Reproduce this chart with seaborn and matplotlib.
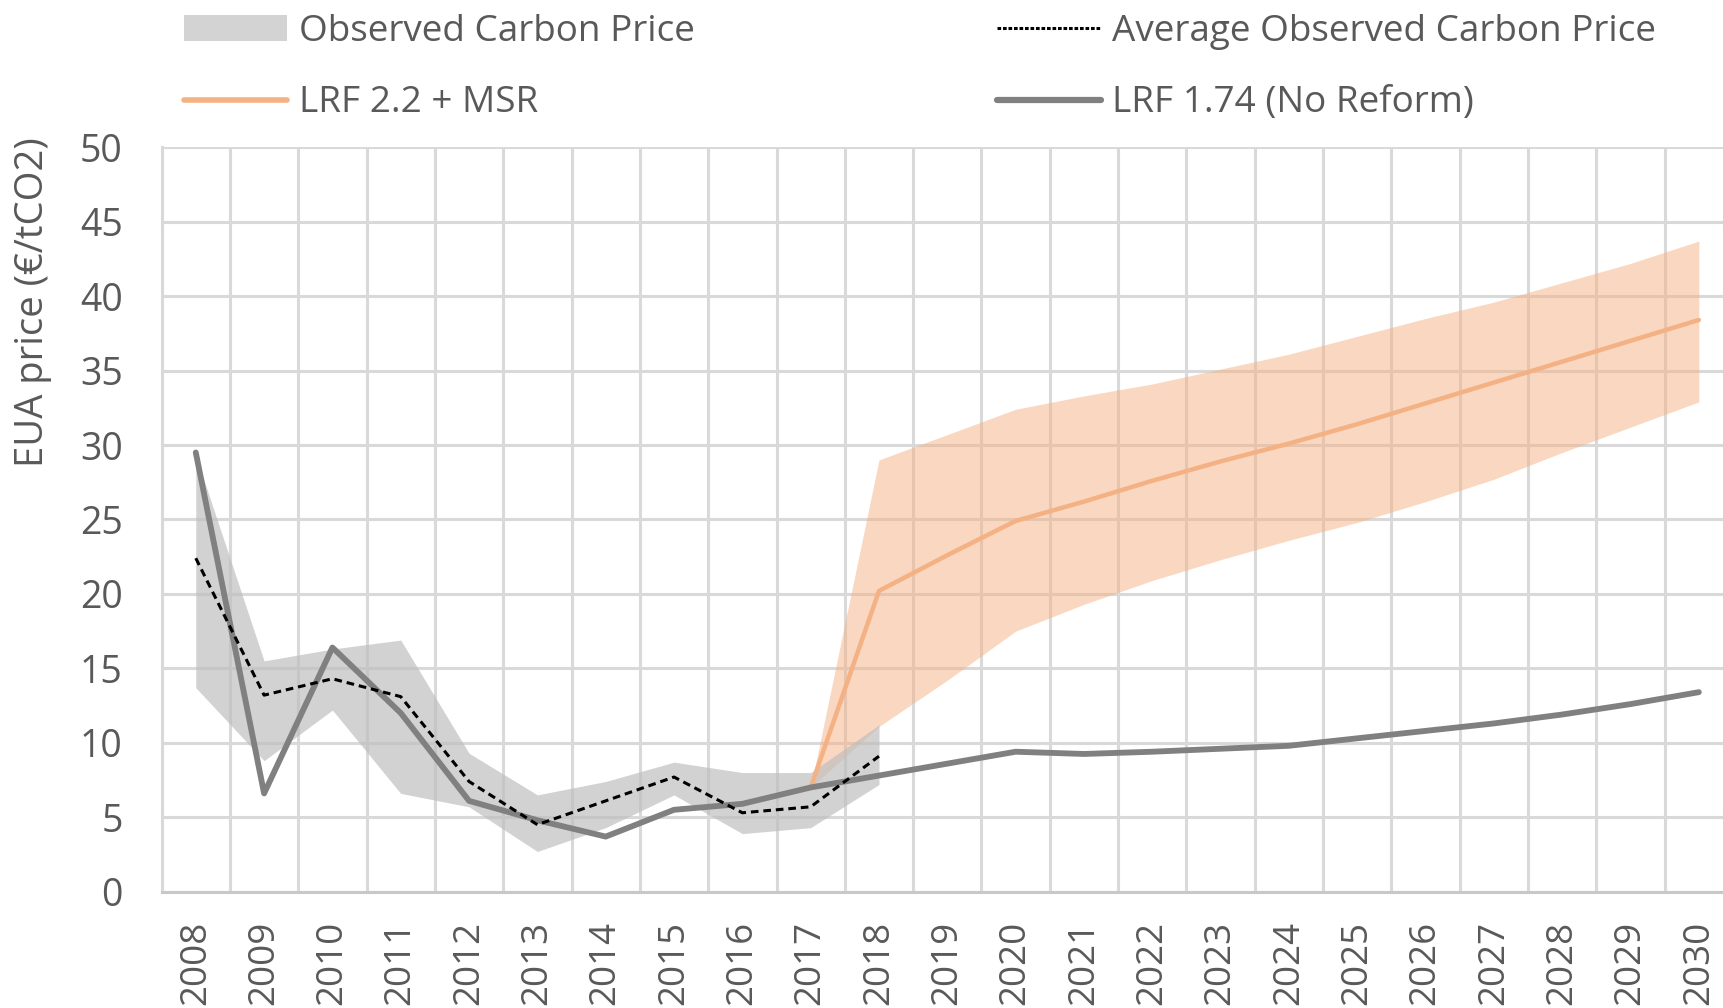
import numpy as np
import pandas as pd
import matplotlib.pyplot as plt
import seaborn as sns
from matplotlib.patches import Patch
from matplotlib.lines import Line2D

# EUA price scenarios, €/tCO2
years = list(range(2008, 2031))
obs_years = list(range(2008, 2019))
obs_high = [29.3, 15.5, 16.3, 16.9, 9.3, 6.5, 7.4, 8.7, 8.0, 8.0, 11.2]
obs_low = [13.7, 8.8, 12.2, 6.6, 5.7, 2.7, 4.3, 6.5, 3.9, 4.3, 7.2]
obs_avg = [22.4, 13.2, 14.3, 13.1, 7.4, 4.5, 6.1, 7.7, 5.3, 5.7, 9.1]
no_reform = [29.5, 6.6, 16.4, 12.0, 6.1, 4.8, 3.7, 5.5, 5.9, 7.0, 7.8, 8.6,
             9.4, 9.25, 9.4, 9.6, 9.8, 10.3, 10.8, 11.3, 11.9, 12.6, 13.4]
msr_years = list(range(2017, 2031))
msr_mid = [7.0, 20.2, 22.6, 24.9, 26.2, 27.6, 28.9, 30.1, 31.4, 32.8, 34.2, 35.6, 37.0, 38.4]
msr_high = [7.0, 29.0, 30.7, 32.4, 33.3, 34.1, 35.1, 36.1, 37.3, 38.5, 39.6, 40.9, 42.2, 43.7]
msr_low = [7.0, 11.1, 14.2, 17.5, 19.3, 20.9, 22.3, 23.6, 24.8, 26.2, 27.7, 29.5, 31.2, 32.9]

TEXT = '#595959'
GRID = '#D9D9D9'
ORANGE = '#F4B183'
GREY = '#808080'

sns.set_theme(style='white')
plt.rcParams['font.family'] = ['Open Sans', 'DejaVu Sans']

obs_df = pd.DataFrame({'year': obs_years, 'avg': obs_avg})
base_df = pd.DataFrame({'year': years, 'price': no_reform})
msr_df = pd.DataFrame({'year': msr_years, 'price': msr_mid})

fig = plt.figure(figsize=(17.23, 10.08), dpi=100)
ax = fig.add_axes([0.0938, 0.1154, 0.912, 0.7385])

ax.fill_between(msr_years, msr_low, msr_high, color=ORANGE, alpha=0.5, lw=0, zorder=2)
ax.fill_between(obs_years, obs_low, obs_high, color='#BFBFBF', alpha=0.7, lw=0, zorder=3)
sns.lineplot(data=msr_df, x='year', y='price', color=ORANGE, lw=3.2, ax=ax, zorder=4)
sns.lineplot(data=base_df, x='year', y='price', color=GREY, lw=4.2, ax=ax, zorder=5)
sns.lineplot(data=obs_df, x='year', y='avg', color='black', lw=2.2,
             linestyle=(0, (2.5, 1.6)), ax=ax, zorder=6)

ax.set_xlim(2007.5, 2030.5)
ax.set_ylim(0, 50)
ax.set_xticks(years)
ax.set_xticklabels([str(y) for y in years], rotation=90)
ax.set_xticks(np.arange(2007.5, 2031, 1), minor=True)
ax.set_yticks(range(0, 51, 5))
ax.grid(False)
ax.grid(True, which='minor', axis='x', color=GRID, lw=2.2)
ax.grid(True, which='major', axis='y', color=GRID, lw=2.2)
ax.set_axisbelow(True)
ax.tick_params(axis='x', which='both', length=0, pad=21, labelsize=26.5, colors=TEXT)
ax.tick_params(axis='y', length=0, pad=28, labelsize=27, colors=TEXT)
for s in ['top', 'right']:
    ax.spines[s].set_visible(False)
ax.spines['left'].set_color(GRID)
ax.spines['left'].set_linewidth(2.2)
ax.spines['bottom'].set_color('#C8C8C8')
ax.spines['bottom'].set_linewidth(2.2)
ax.set_xlabel('')
ax.set_ylabel('')

fig.text(33 / 1723, 1 - 302 / 1008, 'EUA price (€/tCO2)', rotation=90,
         ha='center', va='center', fontsize=27.5, color=TEXT)

handles = [
    Patch(facecolor='#D3D3D3', edgecolor='none', label='Observed Carbon Price'),
    Line2D([], [], color=ORANGE, lw=4, label='LRF 2.2 + MSR'),
    Line2D([], [], color='black', lw=2.2, linestyle=(0, (1.2, 0.6)), label='Average Observed Carbon Price'),
    Line2D([], [], color=GREY, lw=4.5, label='LRF 1.74 (No Reform)'),
]
leg = fig.legend(handles=handles, ncol=2, loc='upper left', bbox_to_anchor=(184 / 1723, 1 - 14 / 1008),
                 frameon=False, fontsize=26.6, handlelength=2.8, handletextpad=0.3,
                 columnspacing=8.2, labelspacing=0.96, borderpad=0, borderaxespad=0)
for t in leg.get_texts():
    t.set_color(TEXT)

fig.savefig('out.png', dpi=100)
